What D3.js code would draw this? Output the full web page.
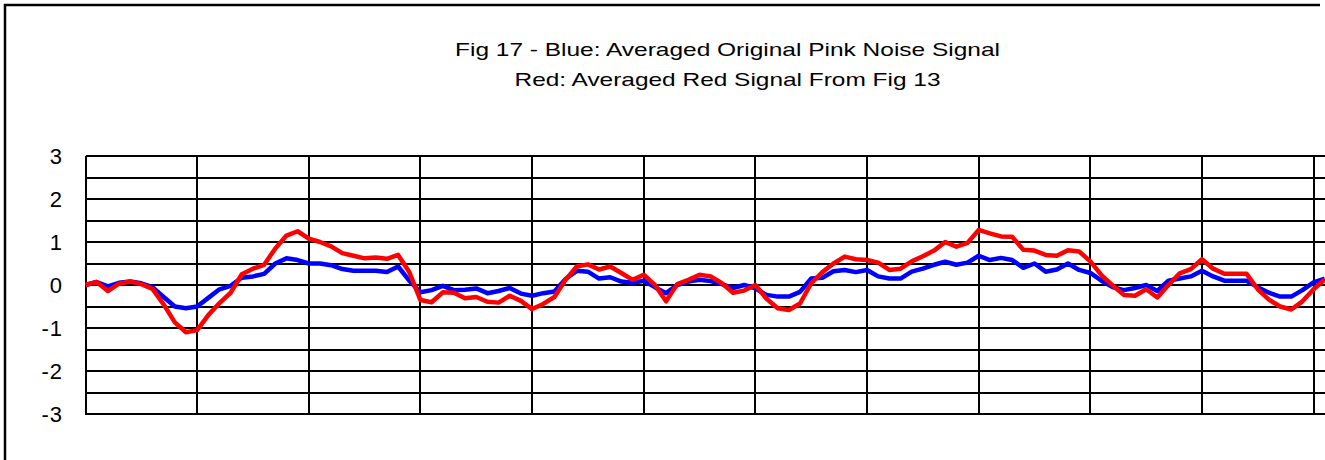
<!DOCTYPE html>
<html><head><meta charset="utf-8">
<script src="https://cdn.jsdelivr.net/npm/d3@7"></script>
<style>
html,body{margin:0;padding:0;background:#fff;}
svg{display:block;}
</style></head>
<body>
<svg id="chart" width="1325" height="460"></svg>
<script>
// ---- data ----
const titleLines = ["Fig 17 - Blue: Averaged Original Pink Noise Signal", "Red: Averaged Red Signal From Fig 13"];
const yTicks = [3, 2, 1, 0, -1, -2, -3];
const yGrid = [-3, -2.5, -2, -1.5, -1, -0.5, 0, 0.5, 1, 1.5, 2, 2.5, 3];
const xGrid = [0, 1, 2, 3, 4, 5, 6, 7, 8, 9, 10, 11];
const step = 0.1; // sample spacing in grid divisions
const blueValues = [
  0.0, 0.07, -0.03, 0.05, 0.08, 0.04, -0.05, -0.28, -0.5, -0.54,
  -0.5, -0.3, -0.1, -0.02, 0.17, 0.2, 0.26, 0.5, 0.62, 0.58,
  0.5, 0.5, 0.46, 0.37, 0.33, 0.33, 0.33, 0.3, 0.43, 0.1,
  -0.17, -0.12, -0.02, -0.12, -0.11, -0.08, -0.19, -0.14, -0.07, -0.2,
  -0.25, -0.19, -0.15, 0.14, 0.33, 0.31, 0.15, 0.18, 0.08, 0.05,
  0.1, -0.05, -0.19, 0.0, 0.08, 0.12, 0.09, 0.02, -0.07, 0.0,
  -0.08, -0.23, -0.27, -0.27, -0.16, 0.15, 0.17, 0.32, 0.35, 0.3,
  0.35, 0.2, 0.15, 0.15, 0.31, 0.38, 0.47, 0.54, 0.47, 0.52,
  0.68, 0.58, 0.63, 0.58, 0.4, 0.5, 0.31, 0.36, 0.5, 0.35,
  0.28, 0.1, -0.05, -0.12, -0.07, 0.0, -0.14, 0.1, 0.15, 0.2,
  0.33, 0.2, 0.1, 0.1, 0.1, -0.05, -0.18, -0.27, -0.27, -0.12,
  0.06, 0.15
];
const redValues = [
  0.0, 0.07, -0.14, 0.03, 0.08, 0.02, -0.09, -0.45, -0.87, -1.1,
  -1.05, -0.7, -0.42, -0.18, 0.25, 0.38, 0.47, 0.85, 1.15, 1.25,
  1.08, 1.0, 0.9, 0.74, 0.68, 0.62, 0.64, 0.61, 0.7, 0.3,
  -0.35, -0.4, -0.17, -0.18, -0.31, -0.28, -0.39, -0.41, -0.25, -0.37,
  -0.56, -0.44, -0.28, 0.12, 0.43, 0.48, 0.36, 0.43, 0.28, 0.12,
  0.24, 0.0, -0.38, 0.02, 0.12, 0.24, 0.2, 0.04, -0.18, -0.13,
  0.0, -0.32, -0.54, -0.58, -0.43, 0.04, 0.3, 0.5, 0.66, 0.6,
  0.58, 0.52, 0.35, 0.38, 0.55, 0.67, 0.8, 1.0, 0.89, 0.98,
  1.28, 1.2, 1.13, 1.12, 0.82, 0.8, 0.7, 0.68, 0.81, 0.78,
  0.55, 0.23, -0.01, -0.23, -0.25, -0.1, -0.29, 0.0, 0.27, 0.37,
  0.6, 0.38, 0.26, 0.26, 0.26, -0.1, -0.34, -0.5, -0.57, -0.38,
  -0.1, 0.13
];

// ---- layout ----
const svg = d3.select("#chart");
const plotLeft = 85.5, plotRight = 1313.6, plotTop = 156, plotBottom = 414;
const x = d3.scaleLinear().domain([0, 11]).range([plotLeft, plotRight]);
const y = d3.scaleLinear().domain([-3, 3]).range([plotBottom, plotTop]);
const xMaxEdge = x.invert(1325);

// outer frame (top and left edges visible)
svg.append("path").attr("d", "M5,470 L5,5 L1320,5")
  .attr("fill", "none").attr("stroke", "#000").attr("stroke-width", 2.5);

// title
const title = svg.append("g").attr("font-family", "Liberation Sans, Arial, sans-serif")
  .attr("font-size", 19).attr("fill", "#000").attr("text-anchor", "middle");
const titleLens = [545, 426];
const titleBase = [56, 86];
titleLines.forEach((t, i) => {
  title.append("text").attr("x", 727.5).attr("y", titleBase[i])
    .attr("textLength", titleLens[i]).attr("lengthAdjust", "spacingAndGlyphs").text(t);
});

// grid
const grid = svg.append("g").attr("stroke", "#000").attr("shape-rendering", "crispEdges");
grid.selectAll("line.h").data(yGrid).join("line").attr("class", "h")
  .attr("x1", plotLeft).attr("x2", x(xMaxEdge))
  .attr("y1", d => Math.round(y(d))).attr("y2", d => Math.round(y(d)))
  .attr("stroke-width", 2);
grid.selectAll("line.v").data(xGrid).join("line").attr("class", "v")
  .attr("x1", d => Math.round(x(d))).attr("x2", d => Math.round(x(d)))
  .attr("y1", plotTop).attr("y2", plotBottom + 1)
  .attr("stroke-width", 2);

// y axis labels
const yAxis = d3.axisLeft(y).tickValues(yTicks).tickSize(0).tickPadding(0)
  .tickFormat(d => d < 0 ? "-" + Math.abs(d) : String(d));
const ya = svg.append("g").attr("transform", "translate(63,0)").call(yAxis);
ya.select(".domain").remove();
ya.selectAll("text").attr("font-family", "Liberation Sans, Arial, sans-serif")
  .attr("font-size", 22).attr("fill", "#000").attr("letter-spacing", "1px");

// series
const line = d3.line().x((d, i) => x(i * step)).y(d => y(d)).curve(d3.curveLinear);
svg.append("path").datum(blueValues).attr("d", line)
  .attr("fill", "none").attr("stroke", "#0000ff").attr("stroke-width", 4.5)
  .attr("stroke-linejoin", "round");
svg.append("path").datum(redValues).attr("d", line)
  .attr("fill", "none").attr("stroke", "#ff0000").attr("stroke-width", 4.5)
  .attr("stroke-linejoin", "round");
</script>
</body></html>
